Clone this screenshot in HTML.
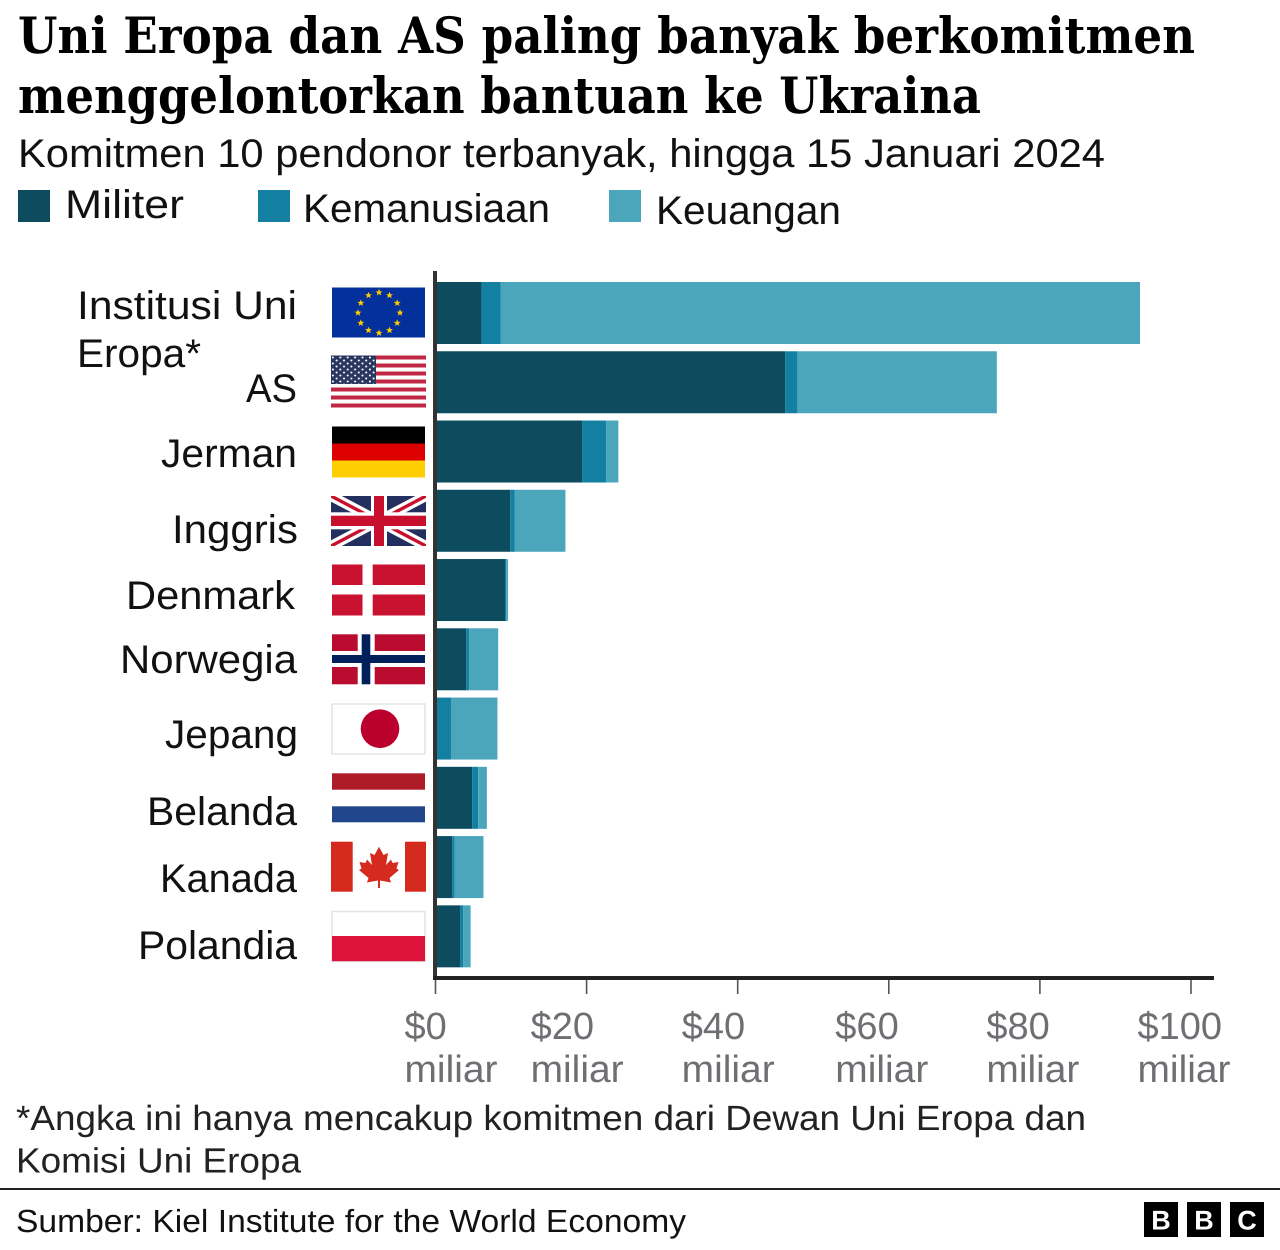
<!DOCTYPE html>
<html lang="id">
<head>
<meta charset="utf-8">
<title>Uni Eropa dan AS paling banyak berkomitmen menggelontorkan bantuan ke Ukraina</title>
<style>
html,body{margin:0;padding:0;background:#fff;width:1280px;height:1250px;overflow:hidden}
svg{display:block}
text{font-family:"Liberation Sans",sans-serif;text-rendering:geometricPrecision}
.title{font-family:"DejaVu Serif","Liberation Serif",serif;font-weight:700;font-size:50px;fill:#000}
.sub{font-size:40px;fill:#111}
.leg{font-size:40px;fill:#111}
.cat{font-size:40px;fill:#111}
.tick{font-size:38px;fill:#6e6e73}
.note{font-size:35px;fill:#222}
.src{font-size:32px;fill:#111}
.bbc{font-size:27px;font-weight:700;fill:#fff;text-anchor:middle}
</style>
</head>
<body>
<svg id="chart" xmlns="http://www.w3.org/2000/svg" width="1280" height="1250" viewBox="0 0 1280 1250">
  <defs>
    <polygon id="eu-star" points="0,-3.6 1,-1.1 3.5,-1.1 1.5,0.5 2.2,3 0,1.5 -2.2,3 -1.5,0.5 -3.5,-1.1 -1,-1.1" fill="#ffcc00"/>
    <pattern id="us-stars" width="7.4" height="6" patternUnits="userSpaceOnUse" x="331" y="356">
      <rect width="7.4" height="6" fill="#2a3560"/>
      <circle cx="1.9" cy="1.5" r="1.05" fill="#fff"/>
      <circle cx="5.6" cy="4.5" r="1.05" fill="#fff"/>
    </pattern>
    <clipPath id="uk-clip"><rect x="331" y="496" width="95" height="50"/></clipPath>
  </defs>

  <text class="title" x="18" y="53" textLength="1177" lengthAdjust="spacingAndGlyphs">Uni Eropa dan AS paling banyak berkomitmen</text>
  <text class="title" x="18" y="113" textLength="963" lengthAdjust="spacingAndGlyphs">menggelontorkan bantuan ke Ukraina</text>
  <text class="sub" x="18" y="167" textLength="1087" lengthAdjust="spacingAndGlyphs">Komitmen 10 pendonor terbanyak, hingga 15 Januari 2024</text>

  <g>
    <rect x="18" y="190" width="32" height="32" fill="#0c4c5e"/>
    <text class="leg" x="65" y="218" textLength="119" lengthAdjust="spacingAndGlyphs">Militer</text>
    <rect x="258" y="190" width="32" height="32" fill="#1380a1"/>
    <text class="leg" x="303" y="222" textLength="247" lengthAdjust="spacingAndGlyphs">Kemanusiaan</text>
    <rect x="609" y="190" width="32" height="32" fill="#4ba6bc"/>
    <text class="leg" x="656" y="224" textLength="185" lengthAdjust="spacingAndGlyphs">Keuangan</text>
  </g>

  <g>
    <text class="cat" x="77" y="319" textLength="220" lengthAdjust="spacingAndGlyphs">Institusi Uni</text>
    <text class="cat" x="77" y="367" textLength="124" lengthAdjust="spacingAndGlyphs">Eropa*</text>
    <text class="cat" x="246" y="402" textLength="51" lengthAdjust="spacingAndGlyphs">AS</text>
    <text class="cat" x="161" y="467" textLength="136" lengthAdjust="spacingAndGlyphs">Jerman</text>
    <text class="cat" x="172" y="543" textLength="126" lengthAdjust="spacingAndGlyphs">Inggris</text>
    <text class="cat" x="126" y="609" textLength="169" lengthAdjust="spacingAndGlyphs">Denmark</text>
    <text class="cat" x="120" y="673" textLength="177" lengthAdjust="spacingAndGlyphs">Norwegia</text>
    <text class="cat" x="165" y="748" textLength="133" lengthAdjust="spacingAndGlyphs">Jepang</text>
    <text class="cat" x="147" y="825" textLength="150" lengthAdjust="spacingAndGlyphs">Belanda</text>
    <text class="cat" x="160" y="892" textLength="137" lengthAdjust="spacingAndGlyphs">Kanada</text>
    <text class="cat" x="138" y="959" textLength="159" lengthAdjust="spacingAndGlyphs">Polandia</text>
  </g>

  <g>
    <rect x="332" y="287.5" width="93" height="50" fill="#03309b"/>
    <use href="#eu-star" x="379" y="292.5"/><use href="#eu-star" x="389.5" y="295.3"/><use href="#eu-star" x="397.2" y="303"/>
    <use href="#eu-star" x="400" y="312.7"/><use href="#eu-star" x="397.2" y="323"/><use href="#eu-star" x="389.5" y="330.2"/>
    <use href="#eu-star" x="379" y="333"/><use href="#eu-star" x="368.5" y="330.2"/><use href="#eu-star" x="360.8" y="323"/>
    <use href="#eu-star" x="358" y="312.7"/><use href="#eu-star" x="360.8" y="303"/><use href="#eu-star" x="368.5" y="295.3"/>
  </g>
  <g>
    <rect x="331" y="355.5" width="95" height="4" fill="#bf2642"/>
    <rect x="331" y="363.5" width="95" height="4" fill="#bf2642"/>
    <rect x="331" y="371.5" width="95" height="4" fill="#bf2642"/>
    <rect x="331" y="379.5" width="95" height="4" fill="#bf2642"/>
    <rect x="331" y="387.5" width="95" height="4" fill="#bf2642"/>
    <rect x="331" y="395.5" width="95" height="4" fill="#bf2642"/>
    <rect x="331" y="403.5" width="95" height="4" fill="#bf2642"/>
    <rect x="331" y="355.5" width="45" height="28.5" fill="url(#us-stars)"/>
  </g>
  <g>
    <rect x="332" y="426.5" width="93" height="17" fill="#000"/>
    <rect x="332" y="443.5" width="93" height="17" fill="#dd0000"/>
    <rect x="332" y="460.5" width="93" height="17" fill="#ffce00"/>
  </g>
  <g clip-path="url(#uk-clip)">
    <rect x="331" y="496" width="95" height="50" fill="#232f5f"/>
    <path d="M331 496L426 546M426 496L331 546" stroke="#fff" stroke-width="10"/>
    <path d="M331 496L426 546M426 496L331 546" stroke="#c8102e" stroke-width="3.4"/>
    <rect x="371" y="496" width="16" height="50" fill="#fff"/>
    <rect x="331" y="512.3" width="95" height="17" fill="#fff"/>
    <rect x="374" y="496" width="10" height="50" fill="#c8102e"/>
    <rect x="331" y="515.7" width="95" height="10.3" fill="#c8102e"/>
  </g>
  <g fill="#c8122f">
    <rect x="332" y="564.5" width="30.5" height="20.5"/>
    <rect x="372.7" y="564.5" width="52.3" height="20.5"/>
    <rect x="332" y="594.5" width="30.5" height="21"/>
    <rect x="372.7" y="594.5" width="52.3" height="21"/>
  </g>
  <g>
    <rect x="332" y="634.3" width="25.7" height="16.7" fill="#ba0c2f"/>
    <rect x="374.7" y="634.3" width="50.3" height="16.7" fill="#ba0c2f"/>
    <rect x="332" y="667" width="25.7" height="17.3" fill="#ba0c2f"/>
    <rect x="374.7" y="667" width="50.3" height="17.3" fill="#ba0c2f"/>
    <rect x="361.7" y="634.3" width="8.6" height="50" fill="#00205b"/>
    <rect x="332" y="655" width="93" height="8" fill="#00205b"/>
  </g>
  <g>
    <rect x="332" y="704" width="93" height="50" fill="#fff" stroke="#e4e4e4" stroke-width="1.5"/>
    <circle cx="380" cy="728.7" r="19.3" fill="#bc002d"/>
  </g>
  <g>
    <rect x="332" y="773.3" width="93" height="16.4" fill="#ae1c28"/>
    <rect x="332" y="806.3" width="93" height="16" fill="#21468b"/>
  </g>
  <g fill="#d52b1e">
    <rect x="331" y="841.7" width="21.7" height="50"/>
    <rect x="405" y="841.7" width="21" height="50"/>
    <polygon points="379,846.7 383.5,855 388,853 386,865 391,859.5 392.5,863 398.5,862 396.5,868.5 399,870 389.5,878 391,882.5 380,880.5 380,888 378,888 378,880.5 367,882.5 368.5,878 359,870 361.5,868.5 359.5,862 365.5,863 367,859.5 372,865 370,853 374.5,855"/>
  </g>
  <g>
    <rect x="332" y="911.5" width="93" height="50" fill="#fff" stroke="#e4e4e4" stroke-width="1.5"/>
    <rect x="332" y="936" width="93" height="25.2" fill="#dc143c"/>
  </g>

  <g id="bars"></g>
  <g id="ticks"></g>

  <rect x="433" y="271" width="4" height="708" fill="#333"/>
  <rect x="433" y="976" width="781" height="4" fill="#222"/>

  <text class="note" x="16" y="1130" textLength="1070" lengthAdjust="spacingAndGlyphs">*Angka ini hanya mencakup komitmen dari Dewan Uni Eropa dan</text>
  <text class="note" x="16" y="1172.5" textLength="285" lengthAdjust="spacingAndGlyphs">Komisi Uni Eropa</text>
  <rect x="0" y="1188" width="1280" height="2" fill="#222"/>
  <text class="src" x="16" y="1232" textLength="670" lengthAdjust="spacingAndGlyphs">Sumber: Kiel Institute for the World Economy</text>

  <g>
    <rect x="1144" y="1202" width="34" height="35" fill="#000"/>
    <text class="bbc" x="1161" y="1229.5">B</text>
    <rect x="1187" y="1202" width="34" height="35" fill="#000"/>
    <text class="bbc" x="1204" y="1229.5">B</text>
    <rect x="1230" y="1202" width="34" height="35" fill="#000"/>
    <text class="bbc" x="1247" y="1229.5">C</text>
  </g>
</svg>

<script>
const categories = ["Institusi Uni Eropa", "AS", "Jerman", "Inggris", "Denmark", "Norwegia", "Jepang", "Belanda", "Kanada", "Polandia"];
const militer = [6.1, 46.3, 19.4, 9.9, 9.2, 4.05, 0, 4.85, 2.2, 3.25];
const kemanusiaan = [2.5, 1.6, 3.2, 0.6, 0.15, 0.4, 2.05, 0.8, 0.35, 0.4];
const keuangan = [84.65, 26.4, 1.6, 6.7, 0.25, 3.85, 6.15, 1.15, 3.8, 1.0];
const tickValues = [0, 20, 40, 60, 80, 100];
const tickUnit = "miliar";

const SVG_NS = "http://www.w3.org/2000/svg";
const barColors = { militer: "#0c4c5e", kemanusiaan: "#1380a1", keuangan: "#4ba6bc" };

function xScale(v) { return 435.5 + v * 7.555; }
function yScale(i) { return 282 + i * 69.26; }
const barHeight = 62;

function tickLabelShift(v) {
  if (v === 0) return 16;
  return v < 60 ? -9 : -6.5;
}

const barsGroup = document.getElementById("bars");
categories.forEach(function (cat, i) {
  const slug = cat.toLowerCase().replace(/\s+/g, "-");
  const segments = [
    ["militer", militer[i]],
    ["kemanusiaan", kemanusiaan[i]],
    ["keuangan", keuangan[i]]
  ];
  let cumulative = 0;
  segments.forEach(function (seg) {
    const rect = document.createElementNS(SVG_NS, "rect");
    
    
    rect.setAttribute("x", xScale(cumulative));
    rect.setAttribute("y", yScale(i));
    rect.setAttribute("width", Math.max(0, xScale(cumulative + seg[1]) - xScale(cumulative)));
    rect.setAttribute("height", barHeight);
    rect.setAttribute("fill", barColors[seg[0]]);
    barsGroup.appendChild(rect);
    cumulative += seg[1];
  });
});

const ticksGroup = document.getElementById("ticks");
tickValues.forEach(function (v) {
  const x = xScale(v);
  const line = document.createElementNS(SVG_NS, "line");
  
  
  line.setAttribute("x1", x);
  line.setAttribute("x2", x);
  line.setAttribute("y1", 978);
  line.setAttribute("y2", 994);
  line.setAttribute("stroke", "#555");
  line.setAttribute("stroke-width", 1.6);
  ticksGroup.appendChild(line);

  const labelX = x + tickLabelShift(v);
  const dollar = document.createElementNS(SVG_NS, "text");
  
  
  dollar.setAttribute("class", "tick");
  dollar.setAttribute("x", labelX - 47);
  dollar.setAttribute("y", 1039);
  dollar.textContent = "$" + v;
  ticksGroup.appendChild(dollar);

  const unit = document.createElementNS(SVG_NS, "text");
  
  
  unit.setAttribute("class", "tick");
  unit.setAttribute("x", labelX - 47);
  unit.setAttribute("y", 1082);
  unit.setAttribute("textLength", 93);
  unit.setAttribute("lengthAdjust", "spacingAndGlyphs");
  unit.textContent = tickUnit;
  ticksGroup.appendChild(unit);
});
</script>
</body>
</html>
